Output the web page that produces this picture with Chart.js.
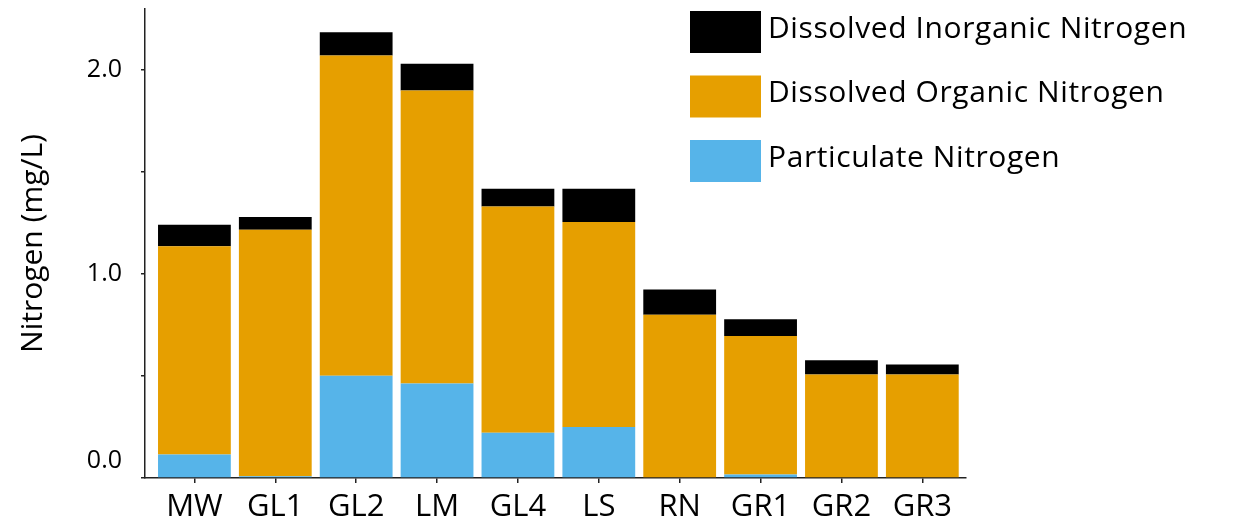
<!DOCTYPE html>
<html>
<head>
<meta charset="utf-8">
<script src="https://cdn.jsdelivr.net/npm/chart.js@4/dist/chart.umd.min.js"></script>
<style>
  body { margin: 0; background: #fff; }
  #wrap { width: 1254px; height: 524px; position: relative; }
</style>
</head>
<body>
<div id="wrap"><canvas id="nCanvas"></canvas></div>
<script>
const sites = ['MW', 'GL1', 'GL2', 'LM', 'GL4', 'LS', 'RN', 'GR1', 'GR2', 'GR3'];
const particulateN = [0.115, 0.008, 0.502, 0.463, 0.222, 0.25, 0, 0.017, 0, 0];
const organicN = [1.022, 1.21, 1.57, 1.437, 1.11, 1.005, 0.801, 0.679, 0.508, 0.508];
const inorganicN = [0.105, 0.062, 0.114, 0.131, 0.087, 0.164, 0.124, 0.083, 0.07, 0.049];
const yTickLabels = { 0: '0.0', 1: '1.0', 2: '2.0' };

const FONT = "'Open Sans', sans-serif";
const toPoints = (arr) => arr.map((v, i) => ({ x: i, y: v }));

// legend drawn by hand, top-right, black entry first
const legendPlugin = {
  id: 'sideLegend',
  afterDraw(chart) {
    const ctx = chart.ctx;
    const items = [...chart.data.datasets].reverse();
    ctx.save();
    ctx.font = `30px ${FONT}`;
    ctx.letterSpacing = '0.6px';
    ctx.textAlign = 'left';
    ctx.textBaseline = 'alphabetic';
    items.forEach((ds, i) => {
      const top = 11 + i * 64.5;
      ctx.fillStyle = ds.backgroundColor;
      ctx.fillRect(690, top, 71, 42);
      ctx.fillStyle = '#000';
      ctx.fillText(ds.label, 768, top + 26.5);
    });
    ctx.letterSpacing = '0px';
    // the zero label sits a bit above its tick in the original
    const y = chart.scales.y;
    ctx.font = `25px ${FONT}`;
    ctx.textAlign = 'right';
    ctx.textBaseline = 'middle';
    ctx.fillText(yTickLabels[0], 122, y.getPixelForValue(0) - 17);
    ctx.restore();
  },
};

const noPad = (scale) => {
  scale.paddingTop = 0;
  scale.paddingBottom = 0;
  scale.paddingLeft = 0;
  scale.paddingRight = 0;
};

new Chart(document.getElementById('nCanvas'), {
  type: 'bar',
  data: {
    datasets: [
      { label: 'Particulate Nitrogen', data: toPoints(particulateN), backgroundColor: '#56B4E9' },
      { label: 'Dissolved Organic Nitrogen', data: toPoints(organicN), backgroundColor: '#E69F00' },
      { label: 'Dissolved Inorganic Nitrogen', data: toPoints(inorganicN), backgroundColor: '#000000' },
    ],
  },
  options: {
    responsive: true,
    maintainAspectRatio: false,
    animation: false,
    layout: { padding: { top: 9, right: 288, left: 0, bottom: 0 } },
    datasets: { bar: { barPercentage: 0.9, categoryPercentage: 1.0 } },
    plugins: { legend: { display: false }, tooltip: { enabled: false } },
    scales: {
      x: {
        type: 'linear',
        stacked: true,
        offset: false,
        min: -0.611,
        max: 9.54,
        afterBuildTicks: (scale) => {
          scale.ticks = sites.map((_, i) => ({ value: i }));
        },
        afterFit: (scale) => { scale.height = 46; noPad(scale); },
        ticks: {
          callback: (v) => sites[v],
          color: '#000',
          font: { family: FONT, size: 31 },
          padding: 6,
          maxRotation: 0,
          autoSkip: false,
        },
        grid: { offset: false, drawOnChartArea: false, drawTicks: true, tickLength: 5, color: '#222', lineWidth: 1.5 },
        border: { color: '#222', width: 1.5 },
      },
      y: {
        stacked: true,
        min: 0,
        max: 2.3,
        afterFit: (scale) => { scale.width = 145; noPad(scale); },
        ticks: {
          stepSize: 0.5,
          includeBounds: false,
          callback: (v) => (v > 0 && yTickLabels[v]) || '',
          color: '#000',
          font: { family: FONT, size: 25 },
          padding: 19,
        },
        grid: { drawOnChartArea: false, drawTicks: true, tickLength: 4, color: '#222', lineWidth: 1.5 },
        border: { color: '#222', width: 1.5 },
        title: {
          display: true,
          text: 'Nitrogen (mg/L)',
          color: '#000',
          font: { family: FONT, size: 30 },
          padding: { top: 15, bottom: 0 },
        },
      },
    },
  },
  plugins: [legendPlugin],
});
</script>
</body>
</html>
